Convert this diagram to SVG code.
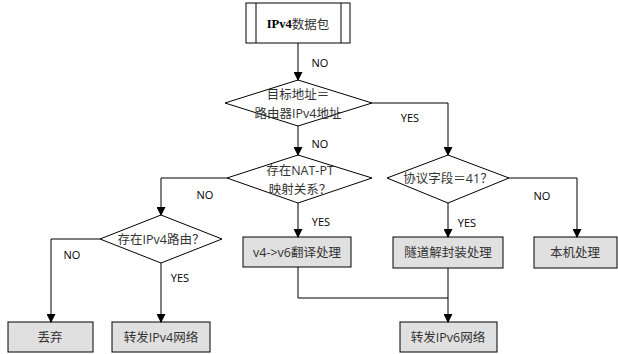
<svg xmlns="http://www.w3.org/2000/svg" width="618" height="354" viewBox="0 0 618 354">
<defs>
<marker id="arr" markerWidth="9" markerHeight="9" refX="8" refY="4.5" orient="auto" markerUnits="userSpaceOnUse">
<path d="M0,0 L9,4.5 L0,9 Z" fill="#000"/>
</marker>
<style>
.box{fill:#e0e0e0;stroke:#000;stroke-width:1}
.dia{fill:#fff;stroke:#000;stroke-width:1}
.t{font-family:"Open Sans","Noto Sans CJK SC",sans-serif;font-size:12.5px;fill:#333;text-anchor:middle;dominant-baseline:central}
.lbl{font-family:"Open Sans",sans-serif;font-size:11px;fill:#000;text-anchor:middle;dominant-baseline:central}
.c{fill:none;stroke:#000;stroke-width:1}
</style>
</defs>
<rect width="618" height="354" fill="#fff"/>
<g id="start">
<rect x="246" y="3" width="104" height="40" fill="#fff" stroke="#000"/>
<line x1="256" y1="3" x2="256" y2="43" stroke="#000"/>
<line x1="341" y1="3" x2="341" y2="43" stroke="#000"/>
<text class="t" x="298" y="24"><tspan font-family="Liberation Serif,serif" font-weight="bold" fill="#000">IPv4</tspan>数据包</text>
</g>
<g id="d1">
<polygon class="dia" points="298,80 372,103 298,126 225,103"/>
<text class="t" x="298" y="94">目标地址＝</text>
<text class="t" x="298" y="113">路由器IPv4地址</text>
</g>
<g id="d2">
<polygon class="dia" points="298,155 372,178 298,203 227,178"/>
<text class="t" x="300" y="170">存在NAT-PT</text>
<text class="t" x="300" y="189">映射关系？</text>
</g>
<g id="d3">
<polygon class="dia" points="448,155 509,178 448,203 387,178"/>
<text class="t" x="448" y="178">协议字段＝41？</text>
</g>
<g id="d4">
<polygon class="dia" points="161,215 222,239 161,263 100,239"/>
<text class="t" x="161" y="239">存在IPv4路由？</text>
</g>
<g id="b1">
<rect class="box" x="243" y="237" width="108" height="30"/>
<text class="t" x="297" y="252">v4-&gt;v6翻译处理</text>
</g>
<g id="b2">
<rect class="box" x="393" y="237" width="110" height="31"/>
<text class="t" x="448" y="252">隧道解封装处理</text>
</g>
<g id="b3">
<rect class="box" x="534" y="237" width="83" height="31"/>
<text class="t" x="575" y="252">本机处理</text>
</g>
<g id="b4">
<rect class="box" x="8" y="322" width="85" height="30"/>
<text class="t" x="50" y="337">丢弃</text>
</g>
<g id="b5">
<rect class="box" x="112" y="322" width="98" height="30"/>
<text class="t" x="161" y="337">转发IPv4网络</text>
</g>
<g id="b6">
<rect class="box" x="400" y="322" width="97" height="30"/>
<text class="t" x="448" y="337">转发IPv6网络</text>
</g>
<g id="connectors">
<path class="c" d="M298,43 V80" marker-end="url(#arr)"/>
<path class="c" d="M372,103 H448 V155" marker-end="url(#arr)"/>
<path class="c" d="M298,126 V155" marker-end="url(#arr)"/>
<path class="c" d="M298,203 V237" marker-end="url(#arr)"/>
<path class="c" d="M227,178 H161 V215" marker-end="url(#arr)"/>
<path class="c" d="M100,239 H51 V322" marker-end="url(#arr)"/>
<path class="c" d="M161,263 V322" marker-end="url(#arr)"/>
<path class="c" d="M448,203 V237" marker-end="url(#arr)"/>
<path class="c" d="M509,178 H577 V237" marker-end="url(#arr)"/>
<path class="c" d="M298,267 V298 H448"/>
<path class="c" d="M448,268 V322" marker-end="url(#arr)"/>
<text class="lbl" x="320" y="62">NO</text>
<text class="lbl" x="410" y="117">YES</text>
<text class="lbl" x="320" y="143">NO</text>
<text class="lbl" x="205" y="194">NO</text>
<text class="lbl" x="321" y="221">YES</text>
<text class="lbl" x="72" y="254">NO</text>
<text class="lbl" x="180" y="277">YES</text>
<text class="lbl" x="467" y="222">YES</text>
<text class="lbl" x="542" y="195">NO</text>
</g>
</svg>
